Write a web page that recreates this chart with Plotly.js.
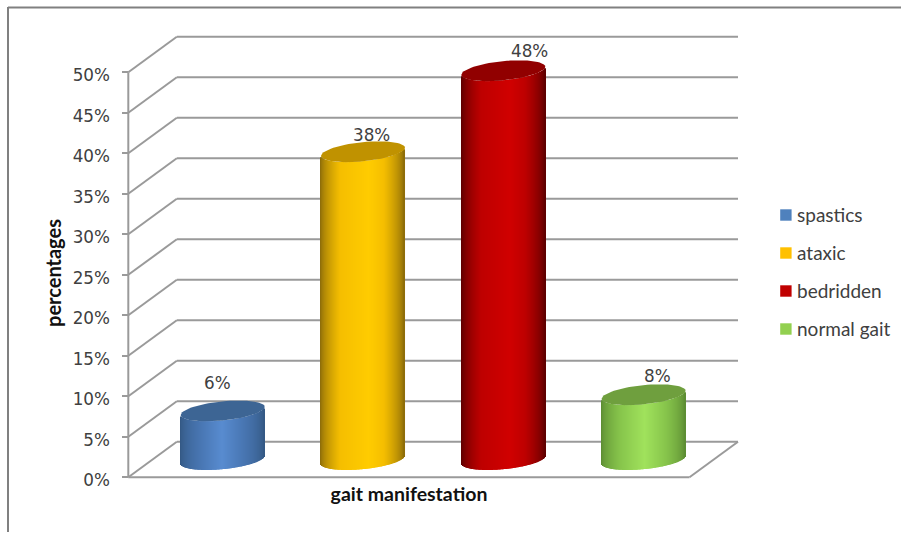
<!DOCTYPE html>
<html><head><meta charset="utf-8">
<script src="https://cdn.plot.ly/plotly-3.0.1.min.js"></script>
<style>html,body{margin:0;padding:0;background:#fff}</style></head>
<body><div id="chart" style="width:901px;height:533px"></div>
<script>
// ---- data ----
const categories = ['spastics', 'ataxic', 'bedridden', 'normal gait'];
const values = [6, 38, 48, 8];
const tickValues = [0, 5, 10, 15, 20, 25, 30, 35, 40, 45, 50];
const tickLabels = ['0%', '5%', '10%', '15%', '20%', '25%', '30%', '35%', '40%', '45%', '50%'];
// ---- styles ----
const legendColors = ['#4f81bd', '#ffc000', '#c00000', '#92d050'];
const edgeColors = [[50, 86, 128], [130, 100, 10], [84, 0, 0], [88, 135, 48]];
const baseColors = [[72, 118, 178], [245, 190, 0], [190, 0, 0], [136, 198, 76]];
const midColors = [[88, 140, 208], [255, 204, 0], [208, 0, 0], [160, 226, 92]];
const topColors = ['#3d6594', '#c09200', '#910000', '#6f9f3e'];
const midPos = [0.5, 0.58, 0.58, 0.52];
const labelShift = [[-5, 28], [8, 17], [26, 20], [14, 19]];

// ---- geometry (pixel scale of the axes) ----
const W = 901, H = 533;
const L = 78, R = 740, T = 30, B = 516;
const pxX = 140.3, pxY = 8.1;
const originX = 128.3, originY = 477.3;
const depthX = 48.5 / pxX, depthY = 35.5 / pxY;
const halfW = 42 / pxX, ryPx = 9.6, tiltPx = 4;
const xr = [(L - originX) / pxX, (R - originX) / pxX];
const yr = [(originY - B) / pxY, (originY - T) / pxY];
const paperX = p => (p - L) / (R - L);
const paperY = p => (B - p) / (B - T);
const GRID = '#9a9a9a';
const n = categories.length;

function line(x0, y0, x1, y1, extra) {
  return Object.assign({type: 'line', xref: 'x', yref: 'y', x0, y0, x1, y1, layer: 'below',
    line: {color: GRID, width: 2}}, extra || {});
}
const shapes = [];
tickValues.forEach(v => {
  shapes.push(line(0, v, depthX, v + depthY));
  shapes.push(line(depthX, v + depthY, n + depthX, v + depthY));
});
shapes.push(line(0, 0, n, 0));
shapes.push(line(n, 0, n + depthX, depthY));
shapes.push(line(0, 0, 0, tickValues[tickValues.length - 1]));
// frame
shapes.push({type: 'line', xref: 'paper', yref: 'paper', x0: paperX(8), x1: paperX(901), y0: paperY(7.5), y1: paperY(7.5), line: {color: '#808080', width: 2}});
shapes.push({type: 'line', xref: 'paper', yref: 'paper', x0: paperX(8), x1: paperX(8), y0: paperY(7), y1: paperY(532), line: {color: '#808080', width: 2}});

const legendY = [215, 253, 291, 329];
const annotations = [];
categories.forEach((c, i) => {
  shapes.push({type: 'rect', xref: 'paper', yref: 'paper', x0: paperX(780.2), x1: paperX(791.6),
    y0: paperY(legendY[i] - 5.7), y1: paperY(legendY[i] + 5.7), fillcolor: legendColors[i], line: {width: 0}});
  annotations.push({xref: 'paper', yref: 'paper', x: paperX(795), y: paperY(legendY[i] - 0.5), text: c, showarrow: false,
    xanchor: 'left', yanchor: 'middle', align: 'left', font: {family: 'Lato', size: 19, color: '#404040'}});
});

const traces = [];
function mix(a, b, t) { return 'rgb(' + a.map((v, k) => Math.round(v + (b[k] - v) * t)).join(',') + ')'; }
function shade(i, f) {
  const m = midPos[i], knee = 0.24;
  const d = f < m ? f : 1 - f;               // distance from the nearer edge
  if (d < knee) return mix(edgeColors[i], baseColors[i], Math.pow(d / knee, 0.6));
  const t = f < m ? (f - knee) / (m - knee) : (1 - knee - f) / (1 - knee - m);
  return mix(baseColors[i], midColors[i], Math.max(0, Math.min(1, t)));
}
values.forEach((v, i) => {
  const cx = i + 0.5 + depthX / 2;
  const strips = 84, xs = [], bases = [], hs = [], cols = [], ws = [];
  for (let s = 0; s < strips; s++) {
    const f = (s + 0.5) / strips, u = 2 * f - 1;
    xs.push(cx + u * halfW);
    ws.push(1.05 / pxX);
    const drop = ryPx * Math.sqrt(Math.max(0, 1 - u * u)) - tiltPx * u;
    bases.push(depthY / 2 - drop / pxY);
    hs.push(v);
    cols.push(shade(i, f));
  }
  traces.push({type: 'bar', name: categories[i], x: xs, y: hs, base: bases, width: ws,
    marker: {color: cols, line: {width: 0}}, showlegend: false, hoverinfo: 'skip'});
  const ex = [], ey = [];
  for (let a = 0; a <= 72; a++) {
    const th = a / 72 * 2 * Math.PI, u = Math.cos(th);
    ex.push(cx + u * halfW);
    ey.push(v + depthY / 2 + (ryPx * Math.sin(th) + tiltPx * u) / pxY);
  }
  traces.push({type: 'scatter', mode: 'lines', x: ex, y: ey, fill: 'toself', fillcolor: topColors[i],
    line: {width: 0, color: topColors[i]}, showlegend: false, hoverinfo: 'skip', name: categories[i] + ' top'});
  annotations.push({xref: 'x', yref: 'y', x: cx, y: v + depthY / 2, text: v + '%', showarrow: false,
    xshift: labelShift[i][0], yshift: labelShift[i][1], xanchor: 'center', yanchor: 'middle',
    font: {family: 'DejaVu Sans', size: 16.8, color: '#404040'}});
});

const layout = {
  width: W, height: H, showlegend: false,
  margin: {l: L, r: W - R, t: T, b: H - B, pad: 0},
  paper_bgcolor: '#fff', plot_bgcolor: '#fff',
  barmode: 'overlay', hovermode: false,
  xaxis: {range: xr, anchor: 'free', position: paperY(originY), showgrid: false, zeroline: false, showline: false,
    ticks: '', showticklabels: false, fixedrange: true,
    title: {text: '<b>gait manifestation</b>', standoff: 10, font: {family: 'Lato', size: 19.5, color: '#111'}}},
  yaxis: {range: yr, anchor: 'free', position: paperX(originX), showgrid: false, zeroline: false, showline: false,
    tickmode: 'array', tickvals: tickValues, ticktext: tickLabels, ticks: 'outside', ticklen: 6, tickwidth: 2, tickcolor: GRID,
    ticklabelstandoff: 9, ticklabelshift: 3,
    tickfont: {family: 'DejaVu Sans', size: 16.8, color: '#404040'}, fixedrange: true,
    title: {text: '<b>percentages</b>', standoff: 4, font: {family: 'Lato', size: 20, color: '#111'}}},
  shapes, annotations
};
Plotly.newPlot('chart', traces, layout, {displayModeBar: false});
</script></body></html>
